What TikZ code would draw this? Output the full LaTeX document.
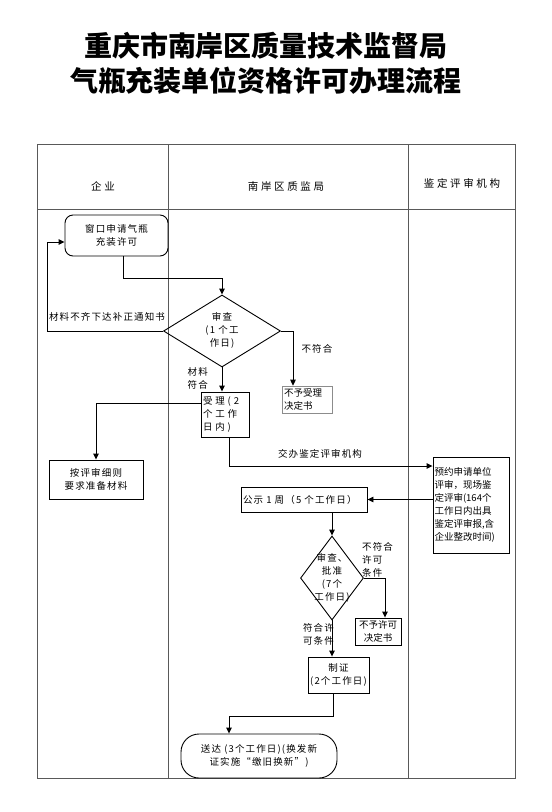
\documentclass[tikz,border=0pt]{standalone}
\usepackage{fontspec}
\setmainfont{Noto Sans CJK SC}
\usetikzlibrary{shapes.geometric,arrows.meta}
\newcommand\bodyfnt{\fontsize{9.5}{13}\selectfont\addfontfeatures{LetterSpace=12}}
\newcommand\tightfnt{\fontsize{9.5}{13}\selectfont}
\tikzset{
  x=1pt,y=-1pt,
  txt/.style={font=\bodyfnt, inner sep=0pt, align=center},
  ltxt/.style={font=\bodyfnt, inner sep=0pt, align=left},
  hdr/.style={font=\fontsize{10.5}{12}\selectfont\addfontfeatures{LetterSpace=25}, inner sep=0pt},
  box/.style={draw, line width=0.9pt, font=\bodyfnt, inner sep=1pt, align=center},
  dia/.style={draw, line width=0.9pt, diamond, inner sep=0pt},
  arr/.style={line width=0.9pt, -{Triangle[length=6pt,width=5.5pt]}},
  frame/.style={draw=black!65, line width=1pt},
}
\begin{document}
\begin{tikzpicture}
\useasboundingbox (0,0) rectangle (552,812);
% title
\node[font=\fontsize{28}{30}\selectfont\bfseries, inner sep=0pt] (t1) at (266,46) {重庆市南岸区质量技术监督局};
\node[font=\fontsize{28}{30}\selectfont\bfseries, inner sep=0pt] (t2) at (266,81) {气瓶充装单位资格许可办理流程};
% table
\draw[frame] (37,144) rectangle (515,778);
\draw[frame] (37,209) -- (515,209);
\draw[frame] (168,144) -- (168,778);
\draw[frame] (408,144) -- (408,778);
\node[hdr] (h1) at (103,186) {企业};
\node[hdr] (h2) at (286,186) {南岸区质监局};
\node[hdr] (h3) at (462,183) {鉴定评审机构};
% nodes
\node[box, rounded corners=8pt, minimum width=103, minimum height=41] (n1) at (116.5,235.5) {窗口申请气瓶\\充装许可};
\node[dia, minimum width=117, minimum height=72] (d1) at (222,331) {};
\node[txt] (d1t) at (222,330) {审查\\(1 个工\\作日)};
\node[box, draw=black!45, line width=0.6pt, minimum width=50, minimum height=27, text width=46, align=left, font=\tightfnt] (n2) at (307,399.5) {不予受理\\决定书};
\node[box, minimum width=48, minimum height=45, text width=44, align=left, font=\fontsize{9.5}{13}\selectfont\addfontfeatures{LetterSpace=30}] (n3) at (225,414.5) {受理(2\\个工作\\日内)};
\node[box, minimum width=94, minimum height=39] (n4) at (96,479.5) {按评审细则\\要求准备材料};
\node[box, minimum width=76, minimum height=96, text width=73, align=left, font=\tightfnt] (n5) at (471,505) {预约申请单位\\评审，现场鉴\\定评审(164个\\工作日内出具\\鉴定评审报,含\\企业整改时间)};
\node[box, minimum width=126, minimum height=25, text width=122, align=left] (n6) at (304,499.5) {公示 1 周（5 个工作日）};
\node[dia, minimum width=63, minimum height=84] (d2) at (332,578) {};
\node[txt] (d2t) at (332,578) {审查、\\批准\\(7个\\工作日)};
\node[box, minimum width=46, minimum height=27, font=\tightfnt] (n7) at (378,631.5) {不予许可\\决定书};
\node[box, minimum width=61, minimum height=36] (n8) at (338.5,675) {制证\\(2个工作日)};
\node[box, rounded corners=18pt, minimum width=156, minimum height=44] (n9) at (259,756) {送达 (3个工作日)(换发新\\证实施“缴旧换新”)};
% labels
\node[txt] (l1) at (107,317) {材料不齐下达补正通知书};
\node[txt] (l2) at (317,349) {不符合};
\node[txt, anchor=east] (l3) at (208,378) {材料\\符合};
\node[txt] (l4) at (320,454) {交办鉴定评审机构};
\node[ltxt, anchor=north west] (l5) at (362,542) {不符合\\许可\\条件};
\node[txt, anchor=east] (l6) at (334,634) {符合许\\可条件};
% connectors
\draw[arr] ([xshift=6.5pt]n1.south) -- ++(0,22) -| (d1.north);
\draw[arr] (d1.west) -| (47,242) -- (n1.west |- 0,242);
\draw[arr] (d1.east) -| ([xshift=-14pt]n2.north);
\draw[arr] (d1.south) -- (d1.south |- n3.north);
\draw[arr] ([yshift=11.5pt]n3.west) -| (n4.north);
\draw[arr] ([xshift=4pt]n3.south) |- (n5.west |- 0,466);
\draw[arr] (n5.west |- n6.east) -- (n6.east);
\draw[arr] (n6.south -| d2.north) -- (d2.north);
\draw[arr] (d2.east) -| ([xshift=7pt]n7.north);
\draw[arr] (d2.south) -- (d2.south |- n8.north);
\draw[arr] ([xshift=-5.5pt]n8.south) -- ++(0,23) -| ([xshift=-30pt]n9.north);
\end{tikzpicture}
\end{document}
